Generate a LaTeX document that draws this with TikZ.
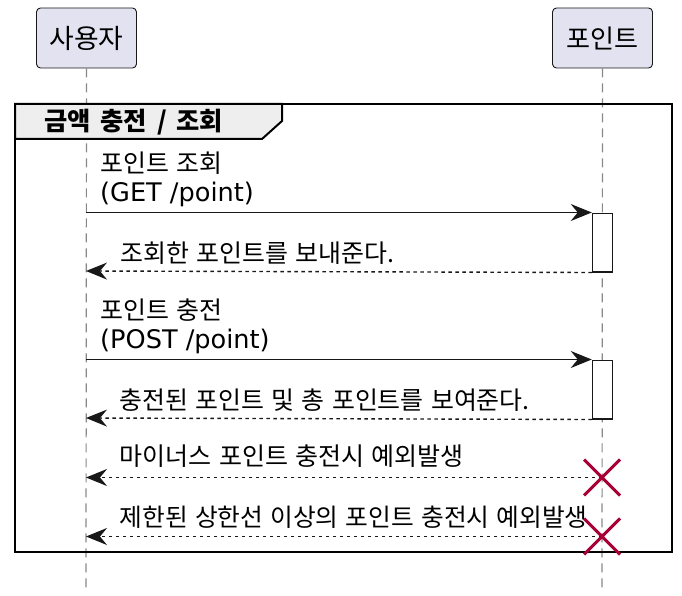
\documentclass[tikz,border=0pt]{standalone}
\usepackage{fontspec}
\usepackage{graphicx}
\setmainfont{Noto Sans CJK KR}[WordSpace=1.3]
\newfontfamily\latinfont{DejaVu Sans}
\newfontfamily\grpfont{Noto Sans CJK KR}[WordSpace=1.7]
\usetikzlibrary{arrows.meta,calc}
\newcommand\fitw[2]{\resizebox{#1}{!}{#2}}
\definecolor{partfill}{HTML}{E2E2F0}
\definecolor{ink}{HTML}{181818}
\definecolor{grpfill}{HTML}{EEEEEE}
\definecolor{xred}{HTML}{A80036}
\definecolor{lifegray}{HTML}{888888}
\tikzset{
  x=1pt, y=-1pt,
  part/.style={draw=ink, fill=partfill, rounded corners=4pt, line width=0.9pt,
    minimum width=100pt, minimum height=60pt, inner sep=0pt, font=\fontsize{27}{30}\selectfont},
  life/.style={draw=lifegray, line width=1.2pt, dash pattern=on 9pt off 6pt},
  actbox/.style={draw=ink, fill=white, line width=1.5pt, minimum width=20pt, inner sep=0pt},
  msgtxt/.style={anchor=base west, inner sep=0pt, font=\fontsize{25}{28}\selectfont},
  lattxt/.style={anchor=base west, inner sep=0pt, font=\latinfont\fontsize{25.6}{28}\selectfont},
  tip/.style={-{Stealth[length=21pt,width=17pt,inset=7pt]}},
  call/.style={draw=ink, line width=1.4pt, tip},
  ret/.style={draw=ink, line width=1.4pt, dash pattern=on 3.5pt off 3.5pt, tip},
  xmark/.style={draw=xred, line width=3pt},
  frame/.style={draw=black, line width=2.5pt},
}
\begin{document}
\begin{tikzpicture}
\useasboundingbox (0,0) rectangle (682,596);
% participants
\node[part] (user) at (86.5,38) {\fitw{74pt}{사용자}};
\node[part] (point) at (602.5,38) {\fitw{72pt}{포인트}};
% lifelines
\coordinate (userEnd) at (86,590);
\coordinate (pointEnd) at (602,590);
\draw[life] (user.south) -- (userEnd);
\draw[life] (point.south) -- (pointEnd);
% group frame
\coordinate (gTL) at (15,104);
\coordinate (gBR) at (672,552);
\draw[fill=grpfill, line width=2pt] (15,104) -- (282,104) -- (282,121) -- (262,139) -- (15,139) -- cycle;
\draw[frame] (gTL) rectangle (gBR);
\node[anchor=base west, inner sep=0pt, font=\grpfont\fontsize{23}{26}\selectfont\bfseries] (glabel) at (44,131) {\fitw{179pt}{금액 충전 / 조회}};
% activations
\node[actbox, minimum height=58.5pt, anchor=north] (act1) at (602.5,212.5) {};
\node[actbox, minimum height=58.5pt, anchor=north] (act2) at (602.5,359.5) {};
% message 1
\coordinate (u1) at (86,212.5);
\coordinate (u2) at (86,271);
\node[msgtxt] (m1a) at (100.5,172.5) {\fitw{122pt}{포인트 조회}};
\node[lattxt] (m1b) at (100,201) {(GET /point)};
\draw[call] (u1) -- (act1.north west);
\node[msgtxt] (r1) at (120.5,262) {\fitw{274pt}{조회한 포인트를 보내준다.}};
\draw[ret] (act1.south west) -- (u2);
% message 2
\coordinate (u3) at (86,359.5);
\coordinate (u4) at (86,418);
\node[msgtxt] (m2a) at (100.5,319.5) {\fitw{122pt}{포인트 충전}};
\node[lattxt] (m2b) at (100,348) {(POST /point)};
\draw[call] (u3) -- (act2.north west);
\node[msgtxt] (r2) at (119.5,409) {\fitw{410pt}{충전된 포인트 및 총 포인트를 보여준다.}};
\draw[ret] (act2.south west) -- (u4);
% exceptions
\coordinate (x1) at (602,477.5);
\coordinate (x2) at (602,536.5);
\coordinate (u5) at (86,477.5);
\coordinate (u6) at (86,536.5);
\node[msgtxt] (e1) at (119.5,465) {\fitw{344pt}{마이너스 포인트 충전시 예외발생}};
\draw[ret] (x1) -- (u5);
\draw[xmark] ($(x1)+(-18,-18)$) -- ($(x1)+(18,18)$) ($(x1)+(-18,18)$) -- ($(x1)+(18,-18)$);
\node[msgtxt] (e2) at (119.5,526) {\fitw{468pt}{제한된 상한선 이상의 포인트 충전시 예외발생}};
\draw[ret] (x2) -- (u6);
\draw[xmark] ($(x2)+(-18,-18)$) -- ($(x2)+(18,18)$) ($(x2)+(-18,18)$) -- ($(x2)+(18,-18)$);
\end{tikzpicture}
\end{document}
